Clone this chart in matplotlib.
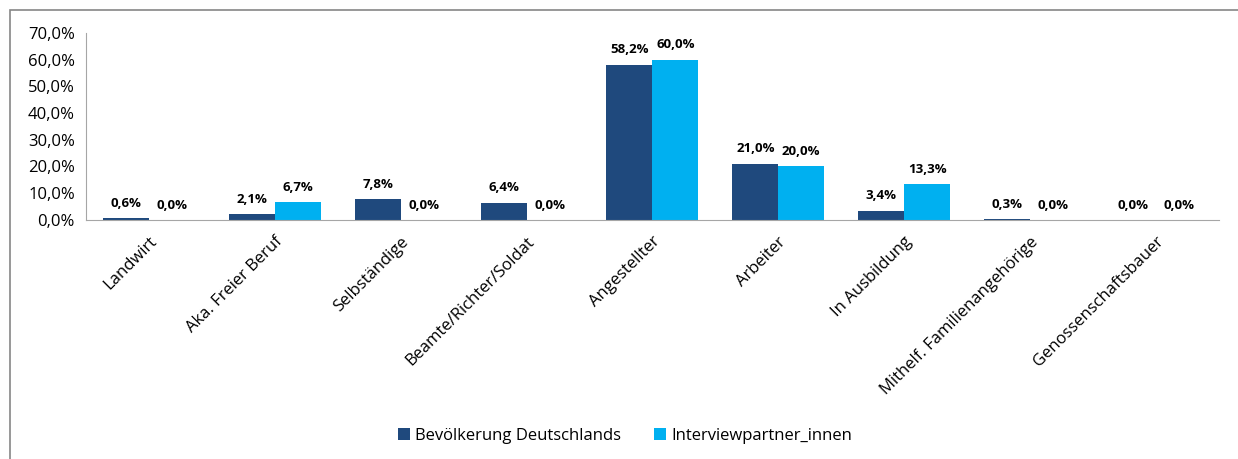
import matplotlib.pyplot as plt
import matplotlib.patches as patches
import numpy as np

categories = ["Landwirt", "Aka. Freier Beruf", "Selbständige", "Beamte/Richter/Soldat",
              "Angestellter", "Arbeiter", "In Ausbildung", "Mithelf. Familienangehörige",
              "Genossenschaftsbauer"]
bevoelkerung = [0.6, 2.1, 7.8, 6.4, 58.2, 21.0, 3.4, 0.3, 0.0]
interview = [0.0, 6.7, 0.0, 0.0, 60.0, 20.0, 13.3, 0.0, 0.0]
series_names = ["Bevölkerung Deutschlands", "Interviewpartner_innen"]
colors = ["#1F497D", "#00B0F0"]

plt.rcParams['font.family'] = ['Open Sans', 'DejaVu Sans']

fig = plt.figure(figsize=(12.38, 4.59), dpi=100)
ax = fig.add_axes([0.0695, 0.521, 0.915, 0.407])

# outer frame like the excel chart border
fig.patches.append(patches.Rectangle((10 / 1238, -0.05), 1.1, 1 - 10 / 459 + 0.05,
                                     transform=fig.transFigure, fill=False,
                                     edgecolor="#868686", linewidth=1.2))

x = np.arange(len(categories))
w = 0.365
b1 = ax.bar(x - w / 2, bevoelkerung, w, color=colors[0], label=series_names[0])
b2 = ax.bar(x + w / 2, interview, w, color=colors[1], label=series_names[1])

for bars, vals in [(b1, bevoelkerung), (b2, interview)]:
    for rect, v in zip(bars, vals):
        ax.annotate(f"{v:.1f}%".replace(".", ","),
                    (rect.get_x() + rect.get_width() / 2, rect.get_height()),
                    xytext=(0, 6), textcoords="offset points",
                    ha="center", va="bottom", fontsize=9.5, fontweight="bold")

ax.set_xlim(-0.5, len(categories) - 0.5)
ax.set_ylim(0, 70)
ax.set_yticks(np.arange(0, 71, 10))
ax.set_yticklabels([f"{v:.1f}%".replace(".", ",") for v in np.arange(0, 71, 10)], fontsize=12)
ax.set_xticks(x)
ax.set_xticklabels(categories, rotation=45, ha="right", rotation_mode="anchor", fontsize=12)
ax.tick_params(length=0, pad=8)
ax.tick_params(axis="x", pad=10)

for s in ["top", "right"]:
    ax.spines[s].set_visible(False)
ax.spines["left"].set_color("#A6A6A6")
ax.spines["bottom"].set_color("#A6A6A6")

fig.legend(loc="center", bbox_to_anchor=(0.505, 0.05), ncol=2, frameon=False,
           fontsize=12, handlelength=0.7, handleheight=0.7, handletextpad=0.3,
           columnspacing=2.0)

fig.savefig("out.png", dpi=100)
